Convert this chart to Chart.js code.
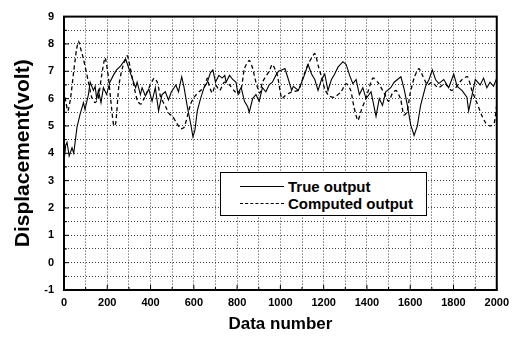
<!DOCTYPE html>
<html>
<head>
<meta charset="utf-8">
<script src="https://cdn.jsdelivr.net/npm/chart.js@4.4.1/dist/chart.umd.min.js"></script>
<style>
  html, body { margin: 0; padding: 0; background: #fff; }
  #wrap { position: relative; width: 515px; height: 338px; }
  #legendBox {
    position: absolute; left: 220px; top: 172px; width: 205px; height: 42px;
    border: 1.5px solid #000; background: #fff;
    font: bold 15px Arial, "Liberation Sans", sans-serif; color: #000;
  }
  .legend-row { position: absolute; left: 0; height: 18px; display: flex; align-items: center; }
  .legend-line { width: 44px; margin-left: 19px; margin-right: 4px; border-top: 1.3px solid #000; }
  .legend-line.dash { border-top: 1.3px dashed #000; }
</style>
</head>
<body>
<div id="wrap">
  <canvas id="chart" width="515" height="338"></canvas>
  <div id="legendBox">
    <div class="legend-row" style="top:4px"><span class="legend-line"></span><span>True output</span></div>
    <div class="legend-row" style="top:21px"><span class="legend-line dash"></span><span>Computed output</span></div>
  </div>
</div>
<script>
// DATA
const trueX = [0, 8, 14, 24, 37, 45, 60, 75, 90, 97, 113, 121, 136, 144, 151, 159, 171, 182, 197, 212, 228, 243, 262, 285, 300, 315, 331, 338, 353, 361, 376, 392, 407, 422, 437, 453, 468, 483, 496, 505, 517, 529, 544, 555, 570, 585, 596, 605, 616, 631, 647, 662, 677, 688, 700, 716, 731, 743, 749, 765, 780, 795, 803, 819, 834, 849, 856, 872, 887, 902, 917, 933, 948, 963, 979, 991, 1006, 1021, 1037, 1052, 1060, 1083, 1106, 1128, 1144, 1159, 1174, 1190, 1205, 1220, 1236, 1251, 1266, 1289, 1304, 1320, 1335, 1350, 1365, 1381, 1396, 1419, 1442, 1457, 1472, 1487, 1510, 1526, 1541, 1557, 1572, 1587, 1602, 1618, 1633, 1648, 1671, 1687, 1702, 1717, 1732, 1755, 1778, 1801, 1817, 1839, 1862, 1870, 1885, 1901, 1923, 1939, 1954, 1969, 1985, 2000];
const trueY = [3.7, 4.3, 4.4, 3.9, 4.2, 4.0, 4.95, 5.45, 5.85, 5.6, 6.15, 6.6, 6.3, 6.45, 6.0, 6.3, 5.85, 6.4, 6.15, 6.6, 6.85, 7.05, 7.2, 7.45, 7.1, 6.75, 6.4, 6.6, 6.15, 6.4, 6.1, 6.35, 5.9, 6.4, 5.55, 6.15, 6.25, 5.95, 6.25, 6.35, 6.5, 6.25, 6.8, 6.4, 5.7, 5.1, 4.6, 4.85, 5.55, 6.0, 6.4, 6.6, 6.95, 7.05, 6.6, 6.85, 6.75, 6.85, 6.6, 6.85, 6.7, 6.6, 6.2, 6.4, 5.9, 5.7, 5.5, 6.0, 6.15, 5.9, 6.4, 6.25, 6.5, 6.6, 6.85, 7.0, 7.05, 7.1, 6.7, 6.3, 6.45, 6.3, 6.75, 7.25, 6.9, 6.7, 6.3, 6.7, 6.9, 6.3, 6.7, 6.9, 7.15, 7.35, 7.25, 6.85, 6.55, 6.7, 6.15, 6.4, 6.0, 6.25, 5.35, 6.0, 5.75, 6.25, 6.4, 6.6, 6.7, 6.8, 6.35, 5.75, 5.05, 4.65, 5.0, 5.75, 6.45, 6.7, 7.05, 6.7, 6.55, 6.7, 6.4, 6.9, 6.45, 6.3, 6.05, 5.55, 6.1, 6.7, 6.5, 6.75, 6.4, 6.6, 6.45, 6.75];

const compX = [0, 8, 18, 30, 45, 58, 67, 78, 90, 113, 128, 144, 159, 175, 190, 205, 218, 230, 239, 254, 269, 292, 307, 322, 340, 355, 370, 393, 416, 431, 447, 470, 486, 502, 517, 540, 555, 570, 585, 601, 624, 647, 662, 670, 685, 700, 720, 740, 765, 785, 805, 820, 834, 856, 872, 887, 905, 917, 948, 963, 986, 1006, 1021, 1052, 1083, 1106, 1128, 1159, 1175, 1190, 1205, 1225, 1250, 1280, 1305, 1325, 1340, 1358, 1375, 1395, 1427, 1450, 1480, 1500, 1518, 1535, 1555, 1570, 1585, 1600, 1620, 1640, 1660, 1680, 1700, 1730, 1760, 1790, 1810, 1840, 1865, 1885, 1908, 1930, 1950, 1970, 1988, 2000];
const compY = [6.3, 5.9, 5.55, 6.0, 7.0, 7.8, 8.1, 7.8, 7.45, 6.6, 6.05, 5.85, 6.05, 6.9, 7.5, 6.8, 5.8, 5.0, 5.1, 6.5, 7.1, 7.57, 7.1, 6.5, 5.9, 5.8, 6.0, 6.4, 6.75, 6.6, 6.05, 5.7, 5.45, 5.35, 5.15, 4.9, 4.95, 5.35, 5.8, 6.05, 6.25, 6.4, 6.75, 6.5, 6.2, 6.5, 6.3, 6.6, 6.5, 6.3, 6.15, 6.4, 7.1, 7.4, 7.1, 6.6, 6.2, 6.6, 7.0, 7.25, 6.85, 6.0, 6.1, 6.25, 6.3, 6.8, 7.25, 7.65, 7.2, 6.8, 6.35, 6.1, 6.05, 6.25, 6.55, 6.3, 5.7, 5.2, 5.6, 6.0, 6.75, 6.6, 6.2, 5.9, 6.2, 6.3, 6.0, 5.4, 5.5, 6.2, 6.8, 7.1, 6.8, 6.5, 6.6, 6.4, 6.55, 6.3, 6.4, 6.7, 6.8, 6.3, 5.85, 5.4, 5.1, 5.0, 5.1, 5.8];

const xMin = 0, xMax = 2000, xStep = 100, xLabelEvery = 200;
const yMin = -1, yMax = 9, yStep = 0.5;

const tickFont = { family: 'Arial, "Liberation Sans", sans-serif', size: 11, weight: "bold" };
const gridColor = "rgba(0, 0, 0, 0.75)";

// draws the frame and the short inward tick marks
const framePlugin = {
  id: "frame",
  afterDraw(chart) {
    const { ctx, chartArea: a } = chart;
    ctx.save();
    ctx.strokeStyle = "#000";
    ctx.lineWidth = 1;
    const xs = chart.scales.x;
    xs.ticks.forEach((t, i) => {
      const p = xs.getPixelForTick(i);
      const len = t.value % xLabelEvery === 0 ? 5 : 3;
      ctx.beginPath();
      ctx.moveTo(p, a.bottom);
      ctx.lineTo(p, a.bottom - len);
      ctx.stroke();
    });
    const ys = chart.scales.y;
    ys.ticks.forEach((t, i) => {
      const p = ys.getPixelForTick(i);
      const len = Number.isInteger(t.value) ? 5 : 3;
      ctx.beginPath();
      ctx.moveTo(a.left, p);
      ctx.lineTo(a.left + len, p);
      ctx.stroke();
    });
    ctx.lineWidth = 2;
    ctx.strokeRect(a.left, a.top, a.right - a.left, a.bottom - a.top);
    ctx.restore();
  },
};

const ctx = document.getElementById("chart").getContext("2d");
new Chart(ctx, {
  type: "line",
  data: {
    datasets: [
      {
        label: "True output",
        data: trueX.map((x, i) => ({ x, y: trueY[i] })),
        borderColor: "#000",
        borderWidth: 1.1,
        pointRadius: 0,
        tension: 0,
      },
      {
        label: "Computed output",
        data: compX.map((x, i) => ({ x, y: compY[i] })),
        borderColor: "#000",
        borderWidth: 1.3,
        borderDash: [4, 3],
        pointRadius: 0,
        tension: 0.2,
      },
    ],
  },
  options: {
    responsive: false,
    animation: false,
    layout: { padding: { top: 8, right: 15, left: 0, bottom: 0 } },
    plugins: { legend: { display: false }, tooltip: { enabled: false } },
    scales: {
      x: {
        type: "linear",
        min: xMin,
        max: xMax,
        afterFit: (s) => { s.height = 48; },
        border: { display: true, color: "#000", width: 2, dash: [1, 2] },
        grid: { color: gridColor, lineWidth: 1, drawTicks: false },
        ticks: {
          stepSize: xStep,
          autoSkip: false,
          maxRotation: 0,
          padding: 6,
          color: "#000",
          font: tickFont,
          callback: (v) => (v % xLabelEvery === 0 ? v : ""),
        },
        title: {
          display: true,
          text: "Data number",
          color: "#000",
          font: { family: 'Arial, "Liberation Sans", sans-serif', size: 17, weight: "bold" },
          padding: { top: 0, bottom: 3 },
        },
      },
      y: {
        min: yMin,
        max: yMax,
        afterFit: (s) => { s.width = 64; },
        border: { display: true, color: "#000", width: 2, dash: [1, 2] },
        grid: { color: gridColor, lineWidth: 1, drawTicks: false },
        ticks: {
          stepSize: yStep,
          autoSkip: false,
          padding: 10,
          color: "#000",
          font: tickFont,
          callback: (v) => (Number.isInteger(v) ? v : ""),
        },
        title: {
          display: true,
          text: "Displacement(volt)",
          color: "#000",
          font: { family: 'Arial, "Liberation Sans", sans-serif', size: 21, weight: "bold" },
          padding: { top: 11, bottom: 0 },
        },
      },
    },
  },
  plugins: [framePlugin],
});
</script>
</body>
</html>
